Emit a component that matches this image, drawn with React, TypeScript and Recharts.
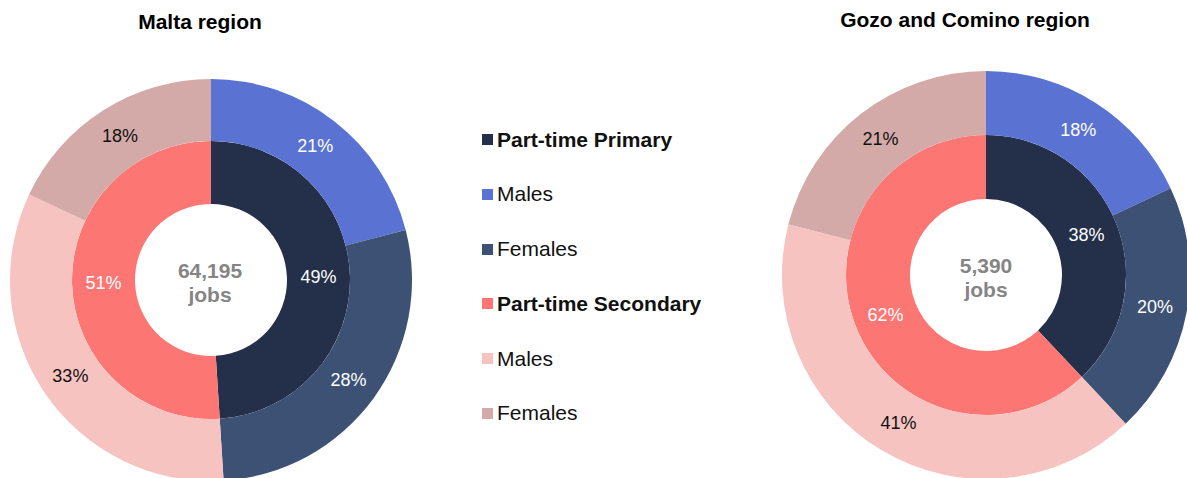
import React from 'react';
import { PieChart, Pie, Cell } from 'recharts';

// inner ring: part-time primary vs secondary
const ringNames = ['Part-time Primary', 'Part-time Secondary'];
// outer ring: split by sex
const splitNames = ['Primary Males', 'Primary Females', 'Secondary Males', 'Secondary Females'];

const maltaInner = [49, 51];
const maltaOuter = [21, 28, 33, 18];
const gozoInner = [38, 62];
const gozoOuter = [18, 20, 41, 21];

const maltaTotal = '64,195';
const gozoTotal = '5,390';

const innerColors = ['#243049', '#FC7673'];
const outerColors = ['#5A73D3', '#3D5174', '#F6C3C1', '#D4AAA8'];
const outerTextColors = ['#fff', '#fff', '#111', '#111'];

const legendItems = [
    { name: 'Part-time Primary', color: '#243049', bold: true },
    { name: 'Males', color: '#5A73D3', bold: false },
    { name: 'Females', color: '#3D5174', bold: false },
    { name: 'Part-time Secondary', color: '#FC7673', bold: true },
    { name: 'Males', color: '#F6C3C1', bold: false },
    { name: 'Females', color: '#D4AAA8', bold: false },
];

const FONT = '"Liberation Sans", Arial, sans-serif';
const RAD = Math.PI / 180;

const pctLabel = (colors: string[]) => (props: any) => {
    const { cx, cy, midAngle, innerRadius, outerRadius, value, index } = props;
    const r = (innerRadius + outerRadius) / 2;
    const x = cx + r * Math.cos(-midAngle * RAD);
    const y = cy + r * Math.sin(-midAngle * RAD);
    return (
        <text x={x} y={y} fill={colors[index]} textAnchor="middle" dominantBaseline="central"
            fontSize={18} fontFamily={FONT}>
            {value}%
        </text>
    );
};

const Donut = ({ inner, outer, cx, cy, r0, r1, r2 }: any) => {
    const innerData = inner.map((v: number, i: number) => ({ name: ringNames[i], value: v }));
    const outerData = outer.map((v: number, i: number) => ({ name: splitNames[i], value: v }));
    return [
        <Pie key="in" data={innerData} dataKey="value" cx={cx} cy={cy} innerRadius={r0} outerRadius={r1}
            startAngle={90} endAngle={-270} stroke="none" isAnimationActive={false}
            label={pctLabel(['#fff', '#fff'])} labelLine={false}>
            {innerData.map((_: any, i: number) => <Cell key={i} fill={innerColors[i]} />)}
        </Pie>,
        <Pie key="out" data={outerData} dataKey="value" cx={cx} cy={cy} innerRadius={r1} outerRadius={r2}
            startAngle={90} endAngle={-270} stroke="none" isAnimationActive={false}
            label={pctLabel(outerTextColors)} labelLine={false}>
            {outerData.map((_: any, i: number) => <Cell key={i} fill={outerColors[i]} />)}
        </Pie>,
    ];
};

const CenterText = ({ cx, cy, total }: { cx: number; cy: number; total: string }) => (
    <div style={{
        position: 'absolute', left: cx - 60, top: cy - 23, width: 120, textAlign: 'center',
        color: '#858585', fontWeight: 'bold', fontSize: 21, lineHeight: '24px',
    }}>
        {total}<br />jobs
    </div>
);

export default function App() {
    return (
        <div style={{ position: 'absolute', left: 0, top: 0, width: 1187, height: 478, background: '#fff', fontFamily: FONT, overflow: 'hidden' }}>
            <PieChart width={1187} height={478} margin={{ top: 0, right: 0, bottom: 0, left: 0 }}>
                {Donut({ inner: maltaInner, outer: maltaOuter, cx: 211, cy: 280, r0: 76, r1: 139, r2: 201 })}
                {Donut({ inner: gozoInner, outer: gozoOuter, cx: 986, cy: 275, r0: 76, r1: 140, r2: 204 })}
            </PieChart>
            <CenterText cx={210} cy={282} total={maltaTotal} />
            <CenterText cx={986} cy={277} total={gozoTotal} />
            <div style={{ position: 'absolute', left: 0, width: 400, top: 10, textAlign: 'center', fontWeight: 'bold', fontSize: 21, color: '#000' }}>
                Malta region
            </div>
            <div style={{ position: 'absolute', left: 765, width: 400, top: 8, textAlign: 'center', fontWeight: 'bold', fontSize: 21, color: '#000' }}>
                Gozo and Comino region
            </div>
            <div style={{ position: 'absolute', left: 482, top: 126 }}>
                {legendItems.map((it, i) => (
                    <div key={i} style={{ display: 'flex', alignItems: 'center', height: 27, marginBottom: 27.8, fontSize: 21, fontWeight: it.bold ? 'bold' : 'normal', color: '#111' }}>
                        <span style={{ display: 'inline-block', width: 11, height: 11, background: it.color, marginRight: 4 }} />
                        {it.name}
                    </div>
                ))}
            </div>
        </div>
    );
}
